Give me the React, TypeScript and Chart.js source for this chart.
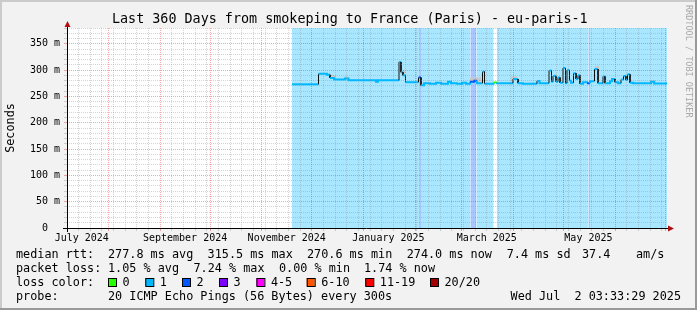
import React, { useEffect, useRef } from 'react';
import { Chart, registerables } from 'chart.js';

Chart.register(...registerables);

// ---------- page / layout constants ----------
const W = 697;
const H = 310;
const MONO = '"DejaVu Sans Mono", monospace';
const PLOT_LEFT = 67;
const PLOT_TOP = 28;
const PLOT_RIGHT = 667;
const PLOT_BOTTOM = 228;

// ---------- time range ----------
const START_MS = Date.UTC(2024, 6, 7, 3, 33, 29);
const END_MS = Date.UTC(2025, 6, 2, 3, 33, 29);
const DAY_MS = 86400000;
const SPAN_DAYS = (END_MS - START_MS) / DAY_MS; // 360

// ---------- y axis ----------
const Y_MAX = 380;
const Y_MINOR_STEP = 10;
const Y_MAJOR_STEP = 50;

// ---------- x labels ----------
const xLabels = ['July 2024', 'September 2024', 'November 2024', 'January 2025', 'March 2025', 'May 2025'];
const xLabelYear = [2024, 2024, 2024, 2025, 2025, 2025];
const xLabelMonth = [6, 8, 10, 0, 2, 4];

// ---------- median rtt (step function: day offset from start, value in ms) ----------
const medianDay = [
  135.0, 150.9, 156.0, 157.8, 160.2, 166.8, 168.9, 185.4, 186.6, 199.2,
  200.4, 201.6, 203.1, 210.9, 212.4, 214.2, 217.8, 221.4, 224.4, 228.6,
  230.4, 234.0, 237.0, 239.4, 241.8, 244.2, 246.0, 249.3, 250.5, 255.9,
  258.0, 267.6, 270.6, 273.6, 282.0, 283.5, 289.2, 290.7, 291.6, 293.4,
  294.6, 295.8, 297.6, 299.1, 300.0, 301.5, 302.4, 303.9, 305.4, 306.6,
  307.8, 309.6, 312.0, 313.8, 316.5, 318.6, 321.6, 322.8, 325.8, 327.0,
  328.8, 330.6, 332.4, 333.9, 335.4, 336.3, 337.8, 339.6, 350.4, 352.2,
];
const medianMs = [
  273, 293, 291, 285, 282, 284, 280.5, 278, 280.5, 315.5,
  296, 290, 277, 286, 271, 275, 274, 276, 274, 278,
  275, 274, 276, 274, 278, 280, 275, 297, 274, 276.5,
  275, 283, 275, 274, 279.5, 275, 299, 278, 289, 278,
  286, 276, 304, 275, 300, 280, 276, 294, 283, 290,
  274, 277, 275, 279, 302, 275, 288, 275, 279, 283,
  277, 275, 282, 289, 281, 292, 276, 275, 278, 274.5,
];
const medianEndDay = 360;

// ---------- packet loss class per period ----------
const lossFromDay = [135.0, 211.2, 212.4, 242.0, 245.6, 256.0, 257.8, 312.9, 313.8];
const lossToDay = [211.2, 212.4, 242.0, 245.6, 256.0, 257.8, 312.9, 313.8, 360.0];
const lossClass = [1, 2, 1, 2, 1, 0, 1, 2, 1];

// ---------- smoke (visible spread above the median) ----------
const smokeFromDay = [157.8, 166.8, 200.4, 241.8, 266.4, 316.8, 350.4];
const smokeToDay = [161.4, 168.9, 203.4, 248.4, 270.0, 319.2, 353.4];
const smokeTopMs = [290, 288, 300, 286, 288, 308, 281];

// ---------- legend ----------
const lossNames = ['0', '1', '2', '3', '4-5', '6-10', '11-19', '20/20'];
const lossColors = ['#26ff00', '#00b8ff', '#0059ff', '#7e00ff', '#ff00ff', '#ff5500', '#ff0000', '#a10000'];
const lossBackColors = ['rgba(0,0,0,0)', 'rgba(0,184,255,0.34)', 'rgba(0,89,255,0.34)'];

const TITLE = 'Last 360 Days from smokeping to France (Paris) - eu-paris-1';
const rttStats = ['277.8 ms avg', '315.5 ms max', '270.6 ms min', '274.0 ms now', '7.4 ms sd', '37.4', 'am/s'];
const lossStats = ['1.05 % avg', '7.24 % max', '0.00 % min', '1.74 % now'];
const probeText = '20 ICMP Echo Pings (56 Bytes) every 300s';
const stampText = 'Wed Jul  2 03:33:29 2025';
const watermark = 'RRDTOOL / TOBI OETIKER';

const GRID_MAJOR = 'rgba(222,48,48,0.42)';
const GRID_MINOR = 'rgba(143,143,143,0.38)';

const dayOf = (y: number, m: number, d: number) => (Date.UTC(y, m, d) - START_MS) / DAY_MS;

type XT = { value: number; kind: 'minor' | 'major' | 'label'; label?: string };

function buildXTicks(): XT[] {
  const t: XT[] = [];
  const majors: number[] = [];
  let y = 2024;
  let m = 7;
  for (;;) {
    const d = dayOf(y, m, 1);
    if (d > SPAN_DAYS) break;
    majors.push(d);
    m++;
    if (m > 11) { m = 0; y++; }
  }
  for (let d = dayOf(2024, 6, 14); d < SPAN_DAYS; d += 7) {
    if (!majors.some((v) => Math.abs(v - d) < 0.5)) t.push({ value: d, kind: 'minor' });
  }
  majors.forEach((v) => t.push({ value: v, kind: 'major' }));
  xLabels.forEach((s, i) => t.push({ value: dayOf(xLabelYear[i], xLabelMonth[i], 1) + 15, kind: 'label', label: s }));
  t.sort((a, b) => a.value - b.value);
  return t;
}

function lossClassAt(day: number): number {
  for (let i = 0; i < lossFromDay.length; i++) {
    if (day >= lossFromDay[i] && day < lossToDay[i]) return lossClass[i];
  }
  return 1;
}

function medianPoints() {
  const pts: { x: number; y: number }[] = [];
  for (let i = 0; i < medianDay.length; i++) {
    const x1 = i + 1 < medianDay.length ? medianDay[i + 1] : medianEndDay;
    pts.push({ x: medianDay[i], y: medianMs[i] }, { x: x1, y: medianMs[i] });
  }
  return pts;
}

function smokePoints() {
  const pts: { x: number; y: number | null }[] = [];
  for (let i = 0; i < smokeFromDay.length; i++) {
    pts.push({ x: smokeFromDay[i], y: smokeTopMs[i] }, { x: smokeToDay[i], y: smokeTopMs[i] }, { x: smokeToDay[i], y: null });
  }
  return pts;
}

function bandPoints(cls: number) {
  const pts: { x: number; y: number | null }[] = [];
  for (let i = 0; i < lossFromDay.length; i++) {
    if (lossClass[i] !== cls) continue;
    pts.push({ x: lossFromDay[i], y: 1 }, { x: lossToDay[i], y: 1 }, { x: lossToDay[i], y: null });
  }
  return pts;
}

const isBigStep = (c: any) =>
  c.p0.parsed.x === c.p1.parsed.x && Math.abs(c.p1.parsed.y - c.p0.parsed.y) > 5;

const framePlugin = {
  id: 'rrdFrame',
  beforeDraw(chart: any) {
    const { ctx, chartArea: a } = chart;
    ctx.save();
    ctx.fillStyle = '#F2F2F2';
    ctx.fillRect(0, 0, W, H);
    ctx.fillStyle = '#CBCBCB';
    ctx.fillRect(0, 0, W, 2);
    ctx.fillRect(0, 0, 2, H);
    ctx.fillStyle = '#999999';
    ctx.fillRect(0, H - 2, W, 2);
    ctx.fillRect(W - 2, 0, 2, H);
    ctx.fillStyle = '#FFFFFF';
    ctx.fillRect(a.left, a.top, a.right - a.left, a.bottom - a.top);
    ctx.restore();
  },
  afterDraw(chart: any) {
    const { ctx, chartArea: a } = chart;
    ctx.save();
    // axes
    ctx.strokeStyle = '#000';
    ctx.lineWidth = 1;
    ctx.beginPath();
    ctx.moveTo(a.left - 4, a.bottom + 0.5);
    ctx.lineTo(a.right + 3, a.bottom + 0.5);
    ctx.moveTo(a.left + 0.5, a.bottom + 4);
    ctx.lineTo(a.left + 0.5, a.top - 3);
    ctx.stroke();
    // arrows
    ctx.fillStyle = '#B01010';
    ctx.beginPath();
    ctx.moveTo(a.left + 0.5, a.top - 7);
    ctx.lineTo(a.left + 3.5, a.top - 1);
    ctx.lineTo(a.left - 2.5, a.top - 1);
    ctx.closePath();
    ctx.fill();
    ctx.beginPath();
    ctx.moveTo(a.right + 7, a.bottom + 0.5);
    ctx.lineTo(a.right + 1, a.bottom - 2.5);
    ctx.lineTo(a.right + 1, a.bottom + 3.5);
    ctx.closePath();
    ctx.fill();

    // title
    ctx.fillStyle = '#000';
    ctx.textBaseline = 'middle';
    ctx.textAlign = 'left';
    ctx.font = `13.4px ${MONO}`;
    ctx.fillText(TITLE, 112, 19.5);

    // legend
    ctx.font = `11.8px ${MONO}`;
    const r1 = 254.5, r2 = 268.5, r3 = 282.5, r4 = 296.5;
    ctx.fillText('median rtt:', 16, r1);
    const rttX = [108, 207.6, 307, 406.7, 506.7, 582, 636];
    rttStats.forEach((s, i) => ctx.fillText(s, rttX[i], r1));
    ctx.fillText('packet loss:', 16, r2);
    const lossX = [108, 193.5, 279, 364];
    lossStats.forEach((s, i) => ctx.fillText(s, lossX[i], r2));
    ctx.fillText('loss color:', 16, r3);
    const boxX = [108, 145.3, 182, 219, 256.4, 306.7, 365.3, 430];
    lossNames.forEach((s, i) => {
      ctx.fillStyle = lossColors[i];
      ctx.fillRect(boxX[i], r3 - 4.5, 8, 8);
      ctx.strokeStyle = '#000';
      ctx.strokeRect(boxX[i] + 0.5, r3 - 4, 8, 8);
      ctx.fillStyle = '#000';
      ctx.fillText(s, boxX[i] + 14.5, r3);
    });
    ctx.fillText('probe:', 16, r4);
    ctx.fillText(probeText, 108, r4);
    ctx.textAlign = 'right';
    ctx.fillText(stampText, 681, r4);

    // watermark
    ctx.translate(688.5, 5);
    ctx.rotate(Math.PI / 2);
    ctx.textAlign = 'left';
    ctx.font = `8.5px ${MONO}`;
    ctx.fillStyle = '#A8A8A8';
    ctx.fillText(watermark, 0, 0);
    ctx.restore();
  },
};

export default function App() {
  const ref = useRef<HTMLCanvasElement | null>(null);

  useEffect(() => {
    if (!ref.current) return;
    const xTicks = buildXTicks();
    const xColor = (c: any) => {
      const t = xTicks[c.index];
      if (!t || t.kind === 'label') return 'rgba(0,0,0,0)';
      return t.kind === 'major' ? GRID_MAJOR : GRID_MINOR;
    };
    const yColor = (c: any) => (c.tick && c.tick.value % Y_MAJOR_STEP === 0 ? GRID_MAJOR : GRID_MINOR);

    const chart = new Chart(ref.current, {
      type: 'line',
      data: {
        datasets: [
          {
            label: 'loss1',
            data: bandPoints(1),
            yAxisID: 'yb',
            order: 3,
            borderWidth: 0,
            pointRadius: 0,
            backgroundColor: lossBackColors[1],
            fill: 'origin',
          },
          {
            label: 'loss2',
            data: bandPoints(2),
            yAxisID: 'yb',
            order: 2,
            borderWidth: 0,
            pointRadius: 0,
            backgroundColor: lossBackColors[2],
            fill: 'origin',
          },
          {
            label: 'median',
            data: medianPoints(),
            yAxisID: 'y',
            order: 0,
            borderWidth: 2,
            borderColor: lossColors[1],
            borderCapStyle: 'butt',
            borderJoinStyle: 'miter',
            pointRadius: 0,
            tension: 0,
            fill: false,
            segment: {
              borderColor: (c: any) =>
                isBigStep(c) ? '#101010' : lossColors[lossClassAt((c.p0.parsed.x + c.p1.parsed.x) / 2)],
              borderWidth: (c: any) => (isBigStep(c) ? 1 : 2),
            },
          },
          {
            label: 'smoke',
            data: smokePoints(),
            yAxisID: 'y',
            order: 1,
            borderWidth: 0,
            pointRadius: 0,
            backgroundColor: '#C8C8C8',
            fill: 2,
          },
        ] as any,
      },
      options: {
        animation: false,
        responsive: false,
        devicePixelRatio: 1,
        events: [],
        layout: { padding: { left: 0, top: PLOT_TOP, right: W - PLOT_RIGHT, bottom: 0 } },
        plugins: {
          legend: { display: false },
          tooltip: { enabled: false },
          title: { display: false },
        },
        scales: {
          x: {
            type: 'linear',
            position: 'bottom',
            min: 0,
            max: SPAN_DAYS,
            afterBuildTicks: (s: any) => {
              s.ticks = xTicks.map((t) => ({ value: t.value }));
            },
            afterFit: (s: any) => {
              s.height = H - PLOT_BOTTOM;
            },
            ticks: {
              autoSkip: false,
              maxRotation: 0,
              minRotation: 0,
              padding: 1,
              color: '#000',
              font: { family: MONO, size: 10 },
              callback: (_v: any, i: number) => (xTicks[i] && xTicks[i].kind === 'label' ? xTicks[i].label : ''),
            },
            grid: {
              z: 1,
              drawTicks: true,
              tickLength: 3,
              lineWidth: 1,
              color: xColor,
              tickColor: xColor,
            },
            border: { display: false, dash: [1, 1] },
          },
          y: {
            type: 'linear',
            position: 'left',
            min: 0,
            max: Y_MAX,
            afterFit: (s: any) => {
              s.width = PLOT_LEFT;
            },
            ticks: {
              stepSize: Y_MINOR_STEP,
              autoSkip: false,
              padding: 4,
              color: '#000',
              font: { family: MONO, size: 10 },
              callback: (v: any) => (v % Y_MAJOR_STEP === 0 ? (v === 0 ? '0  ' : `${v} m`) : ''),
            },
            grid: {
              z: 1,
              drawTicks: true,
              tickLength: 3,
              lineWidth: 1,
              color: yColor,
              tickColor: yColor,
            },
            border: { display: false, dash: [1, 1] },
            title: {
              display: true,
              text: 'Seconds',
              color: '#000',
              font: { family: MONO, size: 11.8 },
              padding: { top: 4, bottom: 0 },
            },
          },
          yb: { type: 'linear', min: 0, max: 1, display: false },
        },
      } as any,
      plugins: [framePlugin],
    });
    return () => chart.destroy();
  }, []);

  return (
    <div style={{ position: 'absolute', left: 0, top: 0, width: W, height: H }}>
      <canvas ref={ref} width={W} height={H} style={{ display: 'block', width: W, height: H }} />
    </div>
  );
}
